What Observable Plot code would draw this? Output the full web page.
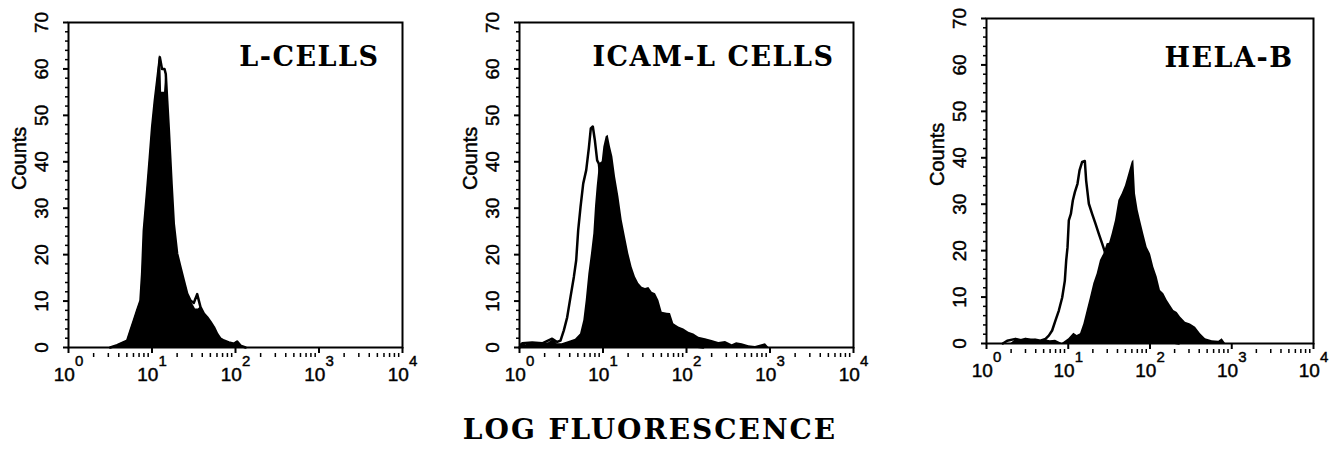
<!DOCTYPE html>
<html><head><meta charset="utf-8">
<script src="https://cdn.jsdelivr.net/npm/d3@7"></script>
<script src="https://cdn.jsdelivr.net/npm/@observablehq/plot@0.6"></script>
<style>
html,body{margin:0;padding:0;background:#fff;}
#root{position:relative;width:1338px;height:463px;overflow:hidden;background:#fff;}
.panel{position:absolute;}
.panel svg g[aria-label="y-axis tick label"] text,
.panel svg g[aria-label="x-axis tick label"] text,
.panel svg text.ylab{stroke:#000;stroke-width:0.45px;}
#xtitle{position:absolute;left:0;width:1300px;top:414px;text-align:center;font-family:"DejaVu Serif",serif;font-weight:bold;font-size:28px;line-height:32px;letter-spacing:2px;color:#000;}
</style></head><body><div id="root"><div id="xtitle"></div></div>
<script>
// ---------- data (x as log10 fluorescence, y as counts) ----------
const panelTitles = ["L-CELLS", "ICAM-L CELLS", "HELA-B"];
const xAxisTitle = "LOG FLUORESCENCE";
const yAxisTitle = "Counts";
const xMajorTicks = [1, 10, 100, 1000, 10000];
const xMinorTicks = [2,3,4,5,6,7,8,9,20,30,40,50,60,70,80,90,200,300,400,500,600,700,800,900,2000,3000,4000,5000,6000,7000,8000,9000];
const yMajorTicks = [0, 10, 20, 30, 40, 50, 60, 70];
const yMinorTicks = [2,4,6,8,12,14,16,18,22,24,26,28,32,34,36,38,42,44,46,48,52,54,56,58,62,64,66,68];

const lcellsStained = [[0.50,0],[0.583,0.5],[0.703,1.5],[0.743,3.7],[0.782,5.8],[0.822,8.0],[0.862,10.1],[0.882,15.9],[0.902,25.2],[0.942,33.8],[0.974,41.0],[1.002,47.5],[1.034,53.2],[1.062,57.5],[1.09,63],[1.105,62],[1.115,55],[1.15,55],[1.165,58.9],[1.182,53.2],[1.202,46.7],[1.234,35.3],[1.261,26.6],[1.301,20.2],[1.341,17.3],[1.381,14.4],[1.421,11.6],[1.461,10.1],[1.50,9.0],[1.521,8.3],[1.555,8.3],[1.581,8.7],[1.621,7.3],[1.661,6.5],[1.701,5.5],[1.741,4.4],[1.781,2.9],[1.820,1.9],[1.860,1.5],[1.920,1.1],[1.980,0.8],[2.020,1.3],[2.060,0.4],[2.120,0]];
const lcellsControl = [[0.50,0],[0.583,0.5],[0.703,1.5],[0.743,3.7],[0.782,5.8],[0.822,8.0],[0.862,10.1],[0.882,15.9],[0.902,25.2],[0.942,33.8],[0.974,41.0],[1.002,47.5],[1.034,53.2],[1.062,57.5],[1.094,62.5],[1.12,60],[1.15,60],[1.165,58.9],[1.182,53.2],[1.202,46.7],[1.234,35.3],[1.261,26.6],[1.301,20.2],[1.341,17.3],[1.381,14.4],[1.421,11.6],[1.461,10.1],[1.50,9.6],[1.541,11.5],[1.581,8.7],[1.621,7.3],[1.661,6.5],[1.701,5.5],[1.741,4.4],[1.781,2.9],[1.820,1.9],[1.860,1.5],[1.920,1.1],[1.980,0.8],[2.020,1.3],[2.060,0.4],[2.120,0]];

const icamStained = [[0.0,0],[0.012,0.8],[0.08,0.6],[0.15,1.0],[0.25,0.7],[0.35,1.0],[0.41,1.8],[0.45,0.8],[0.511,0.8],[0.611,1.4],[0.671,1.8],[0.731,2.9],[0.770,5.8],[0.799,10.1],[0.830,15.8],[0.862,20.2],[0.890,24.5],[0.910,30.3],[0.930,34.6],[0.958,39.6],[0.990,40.0],[1.010,43.2],[1.038,45.4],[1.062,45.7],[1.090,43.2],[1.118,41.1],[1.150,36.8],[1.190,32.5],[1.230,27.4],[1.269,23.8],[1.309,20.2],[1.349,17.3],[1.389,15.2],[1.429,13.8],[1.469,13.0],[1.509,12.7],[1.549,12.9],[1.589,11.9],[1.629,11.6],[1.669,10.1],[1.709,7.6],[1.769,7.4],[1.808,7.3],[1.848,5.1],[1.908,4.4],[1.968,4.0],[2.028,3.3],[2.088,2.9],[2.148,2.2],[2.228,1.9],[2.307,1.5],[2.387,1.1],[2.467,1.3],[2.547,0.6],[2.600,1.0],[2.667,0.8],[2.747,0.4],[2.826,0.2],[2.946,0.8],[2.986,0]];
const icamControl = [[0.0,0],[0.032,0.9],[0.152,1.1],[0.272,0.9],[0.391,1.9],[0.451,1.2],[0.491,1.5],[0.531,3.7],[0.571,6.5],[0.611,10.9],[0.651,15.2],[0.679,18.8],[0.703,25.3],[0.731,30.3],[0.763,35.3],[0.799,38.2],[0.830,42.9],[0.854,47.2],[0.878,47.6],[0.902,44.7],[0.930,40.3],[0.950,39.6],[0.982,34.6],[1.05,28],[1.10,20],[1.15,14],[1.20,10],[1.30,6],[1.40,3],[1.50,2],[1.70,1],[2.0,0.5],[2.2,0]];

const helaStained = [[0.30,0],[0.355,0.8],[0.42,0.5],[0.477,1.0],[0.54,0.6],[0.599,0.9],[0.66,0.5],[0.722,0.8],[0.78,0.6],[0.844,0.7],[0.926,0],[1.007,1.0],[1.068,2.2],[1.109,1.7],[1.150,2.1],[1.191,4.2],[1.232,7.1],[1.272,9.9],[1.313,12.9],[1.354,15.0],[1.394,17.9],[1.435,19.3],[1.476,21.5],[1.505,21.6],[1.537,23.6],[1.578,26.5],[1.619,30.8],[1.659,32.2],[1.700,34.0],[1.741,36.5],[1.782,39.1],[1.802,39.5],[1.823,32.2],[1.855,28.7],[1.884,26.5],[1.924,23.6],[1.966,20.7],[2.006,19.3],[2.047,16.4],[2.088,14.3],[2.128,11.4],[2.169,10.7],[2.210,9.3],[2.251,8.2],[2.291,7.1],[2.333,6.7],[2.373,5.7],[2.434,4.6],[2.495,4.2],[2.557,3.5],[2.618,2.1],[2.679,1.0],[2.761,0.6],[2.842,0.5],[2.883,1.0],[2.924,0]];
const helaControl = [[0.20,0],[0.253,0.6],[0.355,1.0],[0.42,0.7],[0.477,1.0],[0.54,0.8],[0.599,0.8],[0.66,0.6],[0.722,1.0],[0.762,1.7],[0.803,2.8],[0.844,5.0],[0.885,7.1],[0.926,9.9],[0.958,13.5],[0.975,17.9],[0.991,20.7],[1.007,26.5],[1.032,27.9],[1.056,30.8],[1.081,32.6],[1.113,34.4],[1.138,37.3],[1.170,39.1],[1.203,39.3],[1.219,35.1],[1.252,30.1],[1.292,27.9],[1.333,25.8],[1.374,23.6],[1.415,21.5],[1.456,19.3],[1.496,17.1],[1.537,14.9],[1.619,10.6],[1.741,5.5],[1.905,2.6],[2.108,0.8],[2.352,0]];

// ---------- layout ----------
const layout = [
  {left: 0,   top: 10, frameW: 334, titleDx: -23, titleDy: 35},
  {left: 451, top: 10, frameW: 334, titleDx: -19, titleDy: 35},
  {left: 918, top: 6,  frameW: 327, titleDx: -20, titleDy: 40}
];
const series = [[lcellsStained, lcellsControl],[icamStained, icamControl],[helaStained, helaControl]];
const toRows = arr => arr.map(([lx, c]) => ({x: Math.pow(10, lx), y: c}));

document.getElementById("xtitle").textContent = xAxisTitle;
const root = document.getElementById("root");
const M = {l: 68, r: 20, t: 12, b: 50};
const frameH = 325;

layout.forEach((L, i) => {
  const [st, ct] = series[i];
  const svg = Plot.plot({
    width: M.l + L.frameW + M.r,
    height: M.t + frameH + M.b,
    marginLeft: M.l, marginRight: M.r, marginTop: M.t, marginBottom: M.b,
    style: {fontFamily: "'Liberation Sans', Arial, sans-serif", fontSize: "19px", background: "white", color: "black"},
    x: {type: "log", domain: [1, 10000]},
    y: {domain: [0, 70]},
    marks: [
      Plot.areaY(toRows(st), {x: "x", y: "y", fill: "black"}),
      Plot.lineY(toRows(ct), {x: "x", y: "y", stroke: "black", strokeWidth: 2.5}),
      Plot.frame({stroke: "black", strokeWidth: 2}),
      Plot.axisY(yMinorTicks, {tickSize: 3, tickFormat: () => "", label: null, strokeWidth: 1.5}),
      Plot.axisY(yMajorTicks, {tickSize: 5, tickPadding: 16, tickRotate: -90, fontSize: 19, label: null, strokeWidth: 2}),
      Plot.axisX(xMinorTicks, {tickSize: 4, dy: 6, tickFormat: () => "", label: null, strokeWidth: 1.5}),
      Plot.axisX(xMajorTicks, {tickSize: 6, tickPadding: 14, fontSize: 19, label: null, strokeWidth: 2,
        tickFormat: d => "10^" + Math.round(Math.log10(d))}),
      Plot.text([yAxisTitle], {text: d => d, frameAnchor: "left", dx: -49, dy: 5, rotate: -90, fontSize: 20}),
      Plot.text([panelTitles[i]], {text: d => d, frameAnchor: "top-right", dx: L.titleDx, dy: L.titleDy,
        textAnchor: "end", lineAnchor: "middle", fontFamily: "'DejaVu Serif', serif", fontWeight: "bold", fontSize: 27})
    ]
  });
  const s = d3.select(svg);
  s.selectAll("text").each(function() {
    const t = this.textContent;
    if (t.indexOf("^") < 0) return;
    const [base, exp] = t.split("^");
    const sel = d3.select(this);
    sel.text(base);
    sel.append("tspan").attr("dy", "-15").attr("font-size", "15px").text(exp);
  });
  s.selectAll('g[aria-label="text"] text').each(function() {
    if (panelTitles.includes(this.textContent)) d3.select(this).attr("letter-spacing", "1.5px");
    if (this.textContent === yAxisTitle) d3.select(this).classed("ylab", true);
  });
  const div = document.createElement("div");
  div.className = "panel";
  div.style.left = L.left + "px";
  div.style.top = L.top + "px";
  div.appendChild(svg);
  root.appendChild(div);
});
</script></body></html>
